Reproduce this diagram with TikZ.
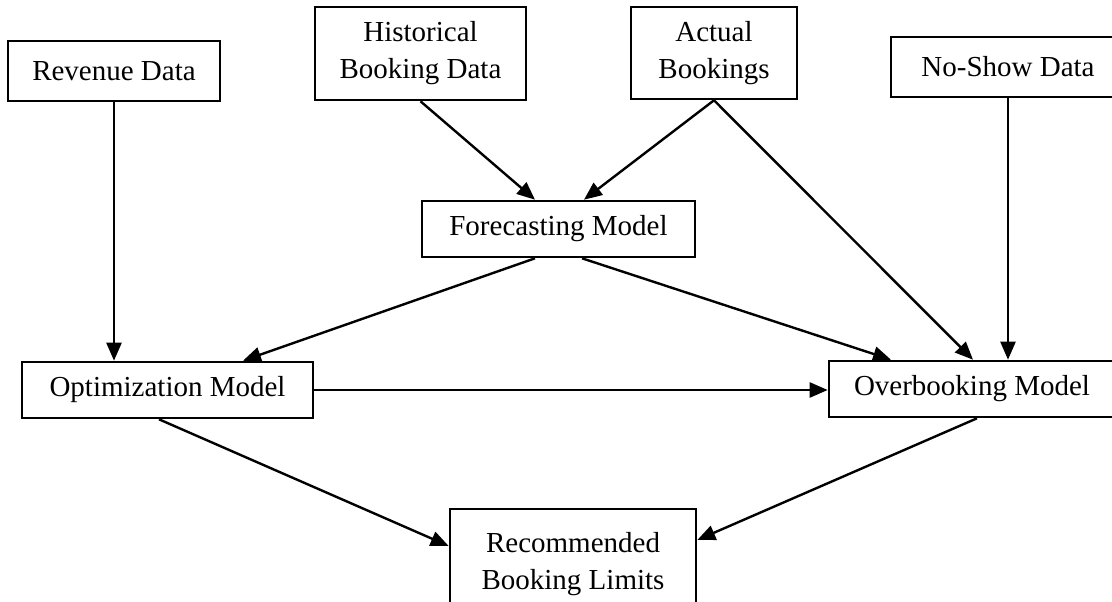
\documentclass[tikz,border=0pt]{standalone}
\usepackage{fontspec}
\setmainfont{Liberation Serif}
\usetikzlibrary{arrows.meta}

\begin{document}
\begin{tikzpicture}[x=1pt,y=-1pt,
  box/.style={draw=black, line width=2.6pt, fill=white, inner sep=0pt, align=center,
              font=\fontsize{29}{37}\selectfont},
  flow/.style={line width=2.4pt, -{Triangle[length=18pt,width=15pt]}},
  link/.style={line width=2.4pt}]
  \useasboundingbox (0,0) rectangle (1112,602);
  \clip (0,0) rectangle (1112,602);

  % input data
  \node[box, minimum width=212pt, minimum height=60pt] (rev)  at (114,71)    {Revenue Data};
  \node[box, minimum width=211pt, minimum height=93pt] (hist) at (420.5,53.5) {Historical\\Booking Data};
  \node[box, minimum width=166pt, minimum height=92pt] (act)  at (714,53)    {Actual\\Bookings};
  \node[box, minimum width=234pt, minimum height=60pt] (nos)  at (1008,67)   {No-Show Data};

  % models
  \node[box, minimum width=273pt, minimum height=56pt] (fore) at (558.5,229) {Forecasting Model};
  \node[box, minimum width=291pt, minimum height=56pt] (opt)  at (167.5,390) {Optimization Model};
  \node[box, minimum width=286pt, minimum height=56pt] (over) at (972,389)   {Overbooking Model};

  % output
  \node[box, minimum width=246pt, minimum height=110pt] (rec) at (573,564)   {Recommended\\Booking Limits};

  % connections
  \draw[flow] (rev.south) -- (rev.south |- opt.north);
  \draw[flow] (hist.south) -- ([xshift=-23.5pt]fore.north);
  \draw[flow] (act.south) -- ([xshift=25.5pt]fore.north);
  \draw[flow] (act.south) -- ([xshift=1pt]over.north);
  \draw[flow] (nos.south) -- (nos.south |- over.north);
  \draw[flow] ([xshift=-23.5pt]fore.south) -- ([xshift=75.5pt]opt.north);
  \draw[flow] ([xshift=23.5pt]fore.south) -- ([xshift=-81pt]over.north);
  \draw[flow] (opt.east) -- (opt.east -| over.west);
  \draw[flow] ([xshift=-8.5pt]opt.south) -- ([yshift=18pt]rec.west);
  \draw[flow] ([xshift=5pt]over.south) -- ([yshift=24pt]rec.east);
\end{tikzpicture}
\end{document}
